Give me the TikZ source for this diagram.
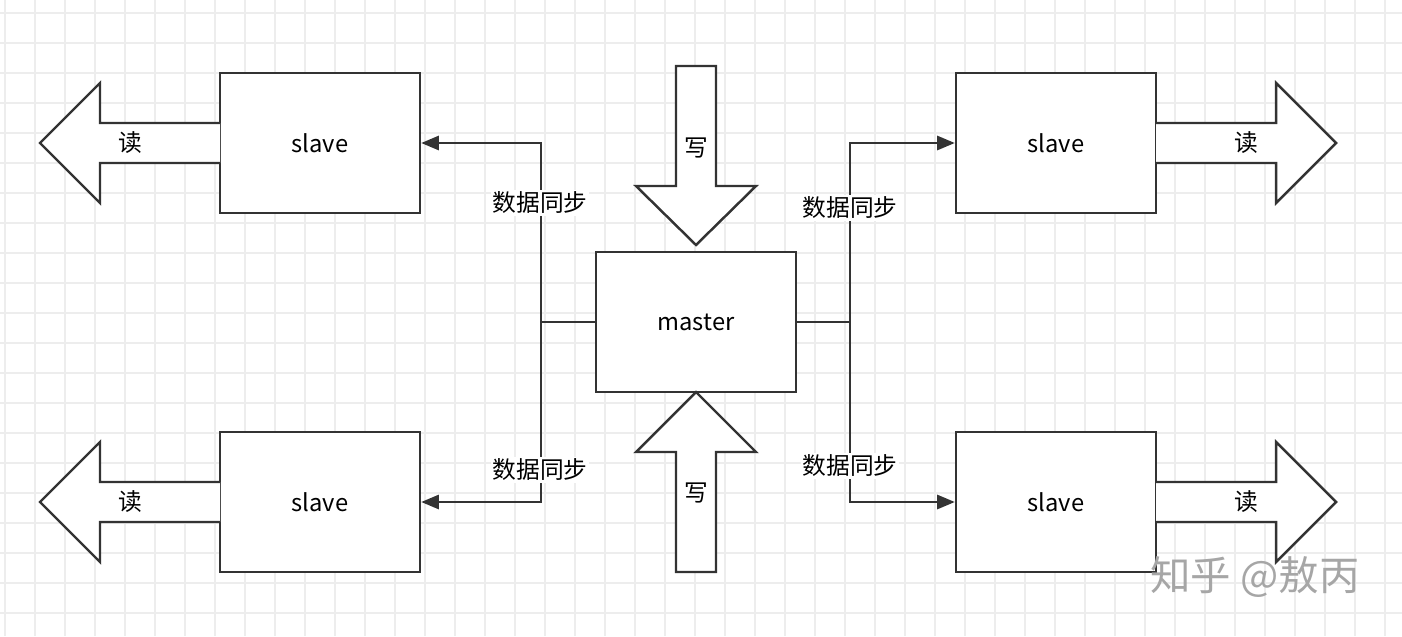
\documentclass[tikz,border=0pt]{standalone}
\usepackage{fontspec}
\setmainfont{Noto Sans CJK SC}
\usetikzlibrary{positioning, arrows.meta, calc}
\tikzset{
  box/.style = {rectangle, draw=black!80, line width=1.4pt, fill=white, minimum width=4cm, minimum height=2.8cm, font=\fontsize{13.5}{15}\selectfont},
  label/.style = {fill=white, inner sep=1pt, font=\fontsize{13.5}{15}\selectfont},
  arrow/.style = {draw=black!80, line width=1.4pt, -{Triangle[length=10pt,width=8pt]}},
  link/.style = {draw=black!80, line width=1.4pt},
  fat/.style = {draw=black!80, line width=1.4pt, fill=white, line join=miter},
  word/.style = {font=\fontsize{13.5}{15}\selectfont}
}
\begin{document}
\begin{tikzpicture}[x=0.02cm, y=-0.02cm]
    \useasboundingbox (0,0) rectangle (1402,636);
    % grid
    \foreach \gx in {5,35,...,1402} \draw[black!7, line width=0.6pt] (\gx,0) -- (\gx,636);
    \foreach \gy in {13,43,...,636} \draw[black!7, line width=0.6pt] (0,\gy) -- (1402,\gy);

    % boxes
    \node[box] (master) at (696,322) {master};
    \node[box] (sTL) at (320,143) {slave};
    \node[box] (sBL) at (320,502) {slave};
    \node[box] (sTR) at (1056,143) {slave};
    \node[box] (sBR) at (1056,502) {slave};

    % read arrows
    \foreach \yy in {143,502} {
        \draw[fat] (220,\yy-20) -- (100,\yy-20) -- (100,\yy-60) -- (40,\yy) -- (100,\yy+60) -- (100,\yy+20) -- (220,\yy+20);
        \draw[fat] (1156,\yy-20) -- (1276,\yy-20) -- (1276,\yy-60) -- (1336,\yy) -- (1276,\yy+60) -- (1276,\yy+20) -- (1156,\yy+20);
    }
    \node[word] (rTL) at (130,143) {读};
    \node[word] (rBL) at (130,502) {读};
    \node[word] (rTR) at (1246,143) {读};
    \node[word] (rBR) at (1246,502) {读};

    % write arrows
    \draw[fat] (676,66) -- (716,66) -- (716,186) -- (756,186) -- (696,245) -- (636,186) -- (676,186) -- cycle;
    \draw[fat] (676,572) -- (716,572) -- (716,452) -- (756,452) -- (696,392) -- (636,452) -- (676,452) -- cycle;
    \node[word] (wT) at (696,148) {写};
    \node[word] (wB) at (696,493) {写};

    % sync connectors
    \coordinate (jL) at (541,322);
    \coordinate (jR) at (850,322);
    \draw[link] (master.west) -- (jL);
    \draw[link] (master.east) -- (jR);
    \draw[arrow] (jL) |- (sTL.east);
    \draw[arrow] (jL) |- (sBL.east);
    \draw[arrow] (jR) |- (sTR.west);
    \draw[arrow] (jR) |- (sBR.west);
    \node[label] (syTL) at (540,203) {数据同步};
    \node[label] (syBL) at (540,470) {数据同步};
    \node[label] (syTR) at (850,208) {数据同步};
    \node[label] (syBR) at (850,466) {数据同步};

    % watermark
    \node[text=black!35, font=\fontsize{23}{26}\selectfont] (mark) at (1255,577) {知乎 @敖丙};
\end{tikzpicture}
\end{document}
